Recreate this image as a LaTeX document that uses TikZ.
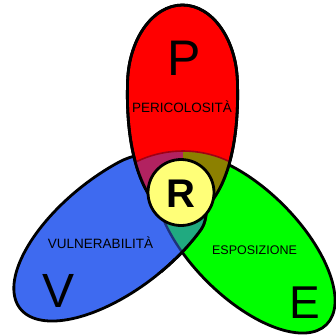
\documentclass[tikz,border=0pt]{standalone}
\usepackage{fontspec}
\setmainfont{Liberation Sans}
\definecolor{rfill}{RGB}{255,0,0}
\definecolor{bfill}{RGB}{62,106,240}
\definecolor{gfill}{RGB}{0,255,0}
\definecolor{yfill}{RGB}{255,255,120}
\definecolor{purp}{RGB}{178,34,96}
\definecolor{oliv}{RGB}{140,128,0}
\definecolor{tealc}{RGB}{32,170,128}
\definecolor{navyl}{RGB}{30,50,120}
\definecolor{darkr}{RGB}{160,0,20}
\def\egg{(0,25) .. controls (8,25) and (20,22) .. (30,5) .. controls (52,-25) and (56,-75) .. (55,-110) .. controls (55,-154.2) and (30.4,-190) .. (0,-190) .. controls (-30.4,-190) and (-55,-154.2) .. (-55,-110) .. controls (-56,-75) and (-52,-25) .. (-30,5) .. controls (-20,22) and (-8,25) .. (0,25) -- cycle}
\def\bluepath{plot[domain=58:290,samples=90,variable=\t] ({118.6+98.5*cos(\t)+35.7*sin(\t)},{231.5-77*cos(\t)+45.7*sin(\t)}) .. controls (145.1,147.9) and (185,150) .. (200,175) .. controls (209,195) and (208.1,219.8) .. (201.1,229.5) -- cycle}
\begin{document}
\begin{tikzpicture}[x=1pt,y=-1pt,
  outl/.style={draw=black,line width=2.8pt,line join=round},
  redpos/.style={shift={(182.5,195)}},
  greenpos/.style={shift={(245.2,243.2)},rotate=-45},
  small/.style={font=\fontsize{13.5}{16}\selectfont,anchor=base,inner sep=0pt},
  big/.style={anchor=base,inner sep=0pt}]
\useasboundingbox (0,0) rectangle (336,335);
\fill[white] (0,0) rectangle (336,335);
% eggs
\filldraw[greenpos,fill=gfill,outl] (0,0) ellipse[x radius=115pt,y radius=54pt];
\filldraw[fill=bfill,outl] \bluepath;
\filldraw[redpos,fill=rfill,outl] \egg;
% overlap band inside red
\begin{scope}
  \clip[redpos] \egg;
  \begin{scope}
    \clip (183,258) circle[radius=107pt];
    \fill[purp] (100,100) rectangle (182.5,262);
    \fill[oliv] (182.5,100) rectangle (262,262);
  \end{scope}
  \draw[darkr,line width=1.6pt] (183,258) circle[radius=107pt];
\end{scope}
\draw[redpos,outl] \egg;
% blue-green overlap
\begin{scope}
  \clip (140,206) rectangle (230,272);
  \begin{scope}
    \clip \bluepath;
    \begin{scope}
      \clip[greenpos] (0,0) ellipse[x radius=115pt,y radius=54pt];
      \fill[tealc] (140,206) rectangle (230,272);
    \end{scope}
    \draw[greenpos,navyl,line width=2.4pt] (0,0) ellipse[x radius=115pt,y radius=54pt];
  \end{scope}
  \draw[outl] \bluepath;
\end{scope}
% centre
\node[circle,draw=black,line width=2.8pt,fill=yfill,minimum size=66pt,inner sep=0pt] (rc) at (181,192.5) {};
\node[big,font=\fontsize{40}{44}\bfseries\selectfont] (r) at (181,207) {R};
% labels
\node[big,font=\fontsize{50}{56}\selectfont] (p) at (184.5,75) {P};
\node[small] (peric) at (182,112) {PERICOLOSITÀ};
\node[small] (vuln) at (100.5,248) {VULNERABILITÀ};
\node[small,font=\fontsize{12.5}{15}\selectfont] (espo) at (254.5,254) {ESPOSIZIONE};
\node[big,font=\fontsize{48}{54}\selectfont] (v) at (58.5,307) {V};
\node[big,font=\fontsize{46}{52}\selectfont] (e) at (304.5,318) {E};
\end{tikzpicture}
\end{document}
